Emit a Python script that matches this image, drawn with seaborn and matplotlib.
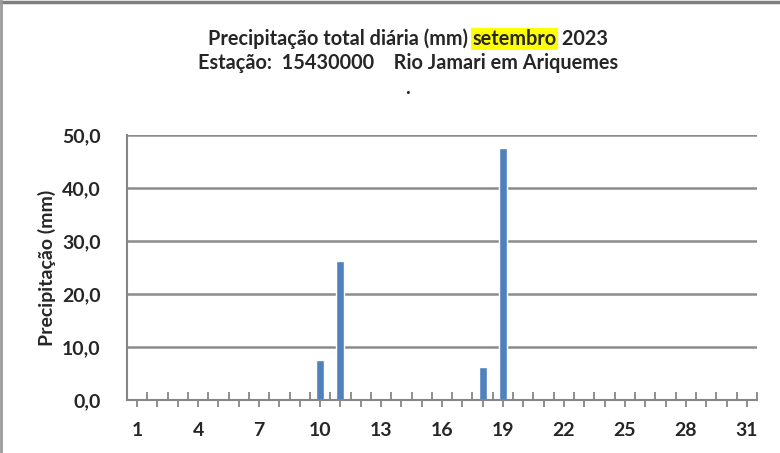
import matplotlib
matplotlib.use("Agg")
import matplotlib.pyplot as plt
import seaborn as sns
import numpy as np
import pandas as pd
from matplotlib.lines import Line2D

days = list(range(1, 32))
precip = [0, 0, 0, 0, 0, 0, 0, 0, 0, 7.5, 26.2, 0, 0, 0, 0, 0, 0, 6.2, 47.5,
          0, 0, 0, 0, 0, 0, 0, 0, 0, 0, 0, 0]
yticks = [0, 10, 20, 30, 40, 50]
ytick_labels = ["0,0", "10,0", "20,0", "30,0", "40,0", "50,0"]
title_a = "Precipitação total diária (mm) "
title_hl = "setembro"
title_b = " 2023"
subtitle = "Estação:  15430000    Rio Jamari em Ariquemes"
ylabel = "Precipitação (mm)"

sns.set_style("white")
plt.rcParams['font.family'] = ['Lato', 'DejaVu Sans']
plt.rcParams['font.weight'] = 'bold'

df = pd.DataFrame({"dia": [str(d) for d in days], "mm": precip})

fig = plt.figure(figsize=(7.8, 4.53), dpi=100)
ax = fig.add_axes([127/780, 1-400/453, 630/780, 265/453])
sns.barplot(data=df, x="dia", y="mm", color="#4F81BD", saturation=1,
            width=0.4, ax=ax, errorbar=None)

ax.set_ylim(0, 50)
ax.set_xlim(-0.5, len(days) - 0.5)
ax.set_yticks(yticks)
ax.set_yticklabels(ytick_labels, fontsize=14, fontweight='bold')
ax.set_xticks(range(len(days)))
ax.set_xticklabels([str(d) if (d - 1) % 3 == 0 else "" for d in days],
                   fontsize=14, fontweight='bold')
ax.set_xticks(np.arange(-0.5, len(days), 1.0), minor=True)
ax.tick_params(axis='x', which='both', bottom=True)
ax.tick_params(axis='x', which='major', direction='out', length=5, width=1.3,
               color='#868686', pad=11)
ax.tick_params(axis='x', which='minor', direction='in', length=6, width=1.3,
               color='#868686')
ax.tick_params(axis='y', which='major', length=0, pad=19)
ax.set_xlabel("")
ax.set_ylabel(ylabel, fontsize=14, fontweight='bold', labelpad=4)

for y in yticks[1:]:
    ax.axhline(y, color='#8C8C8C', lw=1.8, zorder=0)
for s in ['top', 'right']:
    ax.spines[s].set_visible(False)
for s in ['left', 'bottom']:
    ax.spines[s].set_color('#868686')
    ax.spines[s].set_linewidth(1.5)
ax.set_axisbelow(True)

# Title with highlighted month
fig.canvas.draw()
r = fig.canvas.get_renderer()
ty = 1 - 39/453
fs = 14.3
ta = fig.text(0, ty, title_a, fontsize=fs, fontweight='bold', va='center')
th = fig.text(0, ty, title_hl, fontsize=fs, fontweight='bold', va='center')
tb = fig.text(0, ty, title_b, fontsize=fs, fontweight='bold', va='center')
wa = ta.get_window_extent(r).width
wh = th.get_window_extent(r).width
wb = tb.get_window_extent(r).width
th.set_bbox(dict(facecolor='#FFFF00', edgecolor='none', pad=1))
W = fig.get_figwidth() * fig.dpi
total = wa + wh + wb
x0 = (408 - total / 2) / W
ta.set_x(x0)
th.set_x(x0 + wa / W)
tb.set_x(x0 + (wa + wh) / W)

fig.text(408/780, 1 - 63/453, subtitle, fontsize=fs, fontweight='bold',
         ha='center', va='center')
fig.text(408/780, 1 - 88/453, ".", fontsize=fs, fontweight='bold',
         ha='center', va='center')

# chart border (top and left)
fig.add_artist(Line2D([0, 1], [1 - 1.5/453, 1 - 1.5/453], transform=fig.transFigure,
                      color='#7F7F7F', lw=2.5))
fig.add_artist(Line2D([1/780, 1/780], [0, 1], transform=fig.transFigure,
                      color='#9A9A9A', lw=2))

fig.savefig("out.png", dpi=100)
